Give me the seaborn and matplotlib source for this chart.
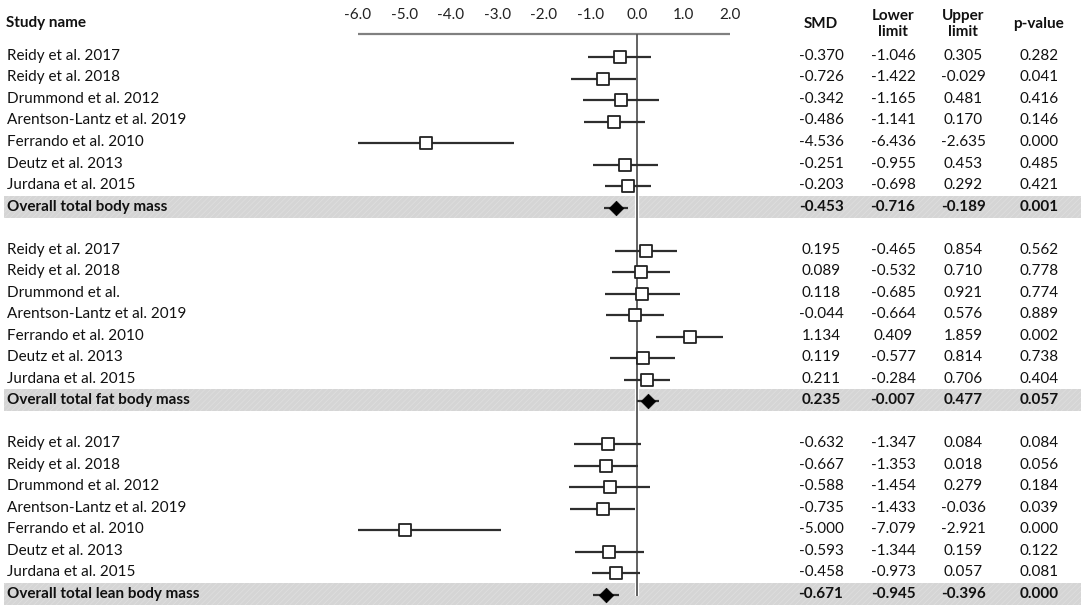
import numpy as np
import pandas as pd
import matplotlib
matplotlib.use("Agg")
import matplotlib.pyplot as plt
import seaborn as sns
from matplotlib.transforms import blended_transform_factory

# ---------------- data ----------------
studies_body = ["Reidy et al. 2017", "Reidy et al. 2018", "Drummond et al. 2012",
                "Arentson-Lantz et al. 2019", "Ferrando et al. 2010", "Deutz et al. 2013",
                "Jurdana et al. 2015"]
studies_fat = ["Reidy et al. 2017", "Reidy et al. 2018", "Drummond et al.",
               "Arentson-Lantz et al. 2019", "Ferrando et al. 2010", "Deutz et al. 2013",
               "Jurdana et al. 2015"]
studies_lean = studies_body

overall_names = ["Overall total body mass", "Overall total fat body mass",
                 "Overall total lean body mass"]

body_smd = [-0.370, -0.726, -0.342, -0.486, -4.536, -0.251, -0.203]
body_lower = [-1.046, -1.422, -1.165, -1.141, -6.436, -0.955, -0.698]
body_upper = [0.305, -0.029, 0.481, 0.170, -2.635, 0.453, 0.292]
body_p = [0.282, 0.041, 0.416, 0.146, 0.000, 0.485, 0.421]
body_overall = [-0.453, -0.716, -0.189, 0.001]

fat_smd = [0.195, 0.089, 0.118, -0.044, 1.134, 0.119, 0.211]
fat_lower = [-0.465, -0.532, -0.685, -0.664, 0.409, -0.577, -0.284]
fat_upper = [0.854, 0.710, 0.921, 0.576, 1.859, 0.814, 0.706]
fat_p = [0.562, 0.778, 0.774, 0.889, 0.002, 0.738, 0.404]
fat_overall = [0.235, -0.007, 0.477, 0.057]

lean_smd = [-0.632, -0.667, -0.588, -0.735, -5.000, -0.593, -0.458]
lean_lower = [-1.347, -1.353, -1.454, -1.433, -7.079, -1.344, -0.973]
lean_upper = [0.084, 0.018, 0.279, -0.036, -2.921, 0.159, 0.057]
lean_p = [0.084, 0.056, 0.184, 0.039, 0.000, 0.122, 0.081]
lean_overall = [-0.671, -0.945, -0.396, 0.000]

tick_values = [-6.0, -5.0, -4.0, -3.0, -2.0, -1.0, 0.0, 1.0, 2.0]
tick_labels = ["-6.0", "-5.0", "-4.0", "-3.0", "-2.0", "-1.0", "0.0", "1.0", "2.0"]
col_headers = ["SMD", "Lower\nlimit", "Upper\nlimit", "p-value"]
study_header = "Study name"

# ---------------- build table ----------------
groups = [
    (studies_body, body_smd, body_lower, body_upper, body_p, overall_names[0], body_overall),
    (studies_fat, fat_smd, fat_lower, fat_upper, fat_p, overall_names[1], fat_overall),
    (studies_lean, lean_smd, lean_lower, lean_upper, lean_p, overall_names[2], lean_overall),
]
rows = []
r = 0
for names, smd, lo, up, p, oname, ov in groups:
    for i in range(len(names)):
        rows.append(dict(row=r, label=names[i], smd=smd[i], lo=lo[i], up=up[i], p=p[i], overall=False))
        r += 1
    rows.append(dict(row=r, label=oname, smd=ov[0], lo=ov[1], up=ov[2], p=ov[3], overall=True))
    r += 2
df = pd.DataFrame(rows)

# ---------------- layout ----------------
W, H = 1084, 610
sns.set_theme(style="white")
plt.rcParams['font.family'] = ['Lato', 'DejaVu Sans']
plt.rcParams['hatch.linewidth'] = 0.6
FS = 11

fig = plt.figure(figsize=(W / 100, H / 100), dpi=100)
ax = fig.add_axes([0, 0, 1, 1])

x_left_px, x_right_px = 358, 730
xmin_t, xmax_t = tick_values[0], tick_values[-1]
ppu = (x_right_px - x_left_px) / (xmax_t - xmin_t)
xl = xmin_t - x_left_px / ppu
xr = xl + W / ppu

row0_px, pitch = 57, 21.52
yt = -row0_px / pitch
yb = (H - row0_px) / pitch

def py(px):
    return (px - row0_px) / pitch

# gray bands for overall rows
for rr in df.loc[df.overall, "row"]:
    ax.axhspan(rr - 0.55, rr + 0.47, xmin=0.004, xmax=0.997, facecolor="#d5d5d5",
               edgecolor="#dedede", hatch="//////", lw=0, zorder=0)

# axis line and zero line
last_row = df.row.max()
ax.hlines(py(34), xmin_t, xmax_t, color="#808080", lw=1.6, zorder=1)
ax.vlines(0, py(34), last_row + 0.05, color="white", lw=3, zorder=0.5)
ax.vlines(0, py(34), last_row + 0.05, color="#555555", lw=1.3, zorder=1)

for v, lab in zip(tick_values, tick_labels):
    ax.text(v, py(15), lab, ha="center", va="center", fontsize=FS, color="#222222")

# CI lines
ax.hlines(df.row, np.clip(df.lo, xmin_t, xmax_t), np.clip(df.up, xmin_t, xmax_t),
          color="#2e2e2e", lw=1.6, zorder=2)

studies_df = df[~df.overall]
overall_df = df[df.overall]
sns.scatterplot(data=studies_df, x="smd", y="row", marker="s", s=85, color="white",
                edgecolor="#222222", linewidth=1.3, zorder=3, ax=ax, legend=False)
sns.scatterplot(data=overall_df, x="smd", y="row", marker="D", s=55, color="black",
                edgecolor="black", linewidth=0.5, zorder=3, ax=ax, legend=False)

# text columns
tr = blended_transform_factory(fig.transFigure, ax.transData)
ax.text(6 / W, py(23), study_header, transform=tr, ha="left", va="center",
        fontsize=FS, fontweight="bold", color="#111111")
col_x = [821, 893, 963, 1039]
for cx, h in zip(col_x, col_headers):
    ax.text(cx / W, py(24), h, transform=tr, ha="center", va="center",
            fontsize=FS, fontweight="bold", color="#111111", linespacing=1.1)

for _, row in df.iterrows():
    wt = "bold" if row.overall else "normal"
    ax.text(7 / W, row.row - 0.05, row.label, transform=tr, ha="left", va="center",
            fontsize=FS, fontweight=wt, color="#111111")
    vals = [row.smd, row.lo, row.up, row.p]
    for cx, v in zip(col_x, vals):
        ax.text(cx / W, row.row - 0.05, f"{v:.3f}", transform=tr, ha="center", va="center",
                fontsize=FS, fontweight=wt, color="#111111")

ax.set_xlim(xl, xr)
ax.set_ylim(yb, yt)
ax.set_axis_off()

fig.savefig("out.png", dpi=100)
